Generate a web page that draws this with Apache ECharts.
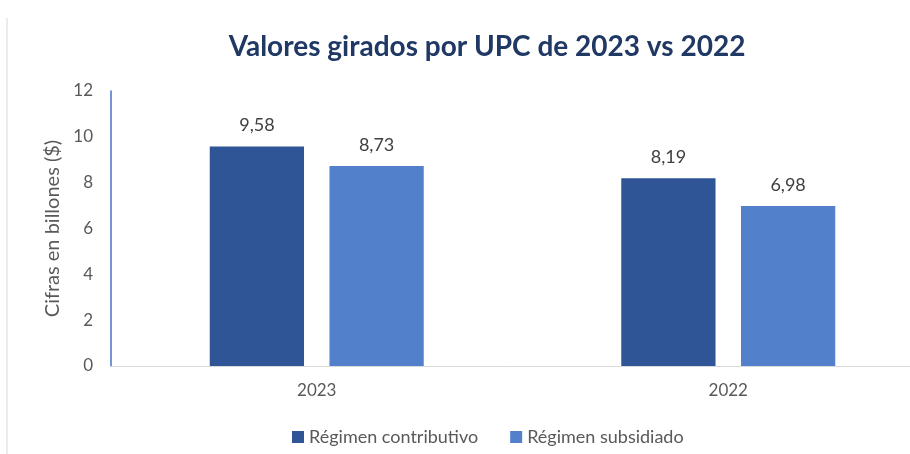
<!DOCTYPE html>
<html>
<head>
<meta charset="utf-8">
<script src="https://cdn.jsdelivr.net/npm/echarts@6/dist/echarts.min.js"></script>
<style>
html, body { margin: 0; padding: 0; background: #fff; }
#chart { width: 910px; height: 454px; }
</style>
</head>
<body>
<div id="chart"></div>
<script>
var years = ['2023', '2022'];
var contributivo = [9.58, 8.19];
var subsidiado = [8.73, 6.98];
var yTicks = [0, 2, 4, 6, 8, 10, 12];

var chart = echarts.init(document.getElementById('chart'));

function etiqueta(p) {
	return p.value.toFixed(2).replace('.', ',');
}

var option = {
	backgroundColor: '#fff',
	textStyle: { fontFamily: 'Lato' },
	title: {
		text: 'Valores girados por UPC de 2023 vs 2022',
		left: 482,
		textAlign: 'center',
		top: 28,
		textStyle: { fontFamily: 'Lato', fontWeight: 'bold', fontSize: 28, color: '#1F3864' }
	},
	legend: {
		data: ['Régimen contributivo', 'Régimen subsidiado'],
		top: 423,
		left: 287,
		itemWidth: 12,
		itemHeight: 12,
		itemGap: 32,
		icon: 'rect',
		textStyle: { fontSize: 18, color: '#595959' }
	},
	grid: { left: 111, right: -24, top: 91, bottom: 88, outerBoundsMode: 'none', containLabel: false },
	xAxis: {
		type: 'category',
		data: years,
		axisLine: { lineStyle: { color: '#d9d9d9' } },
		axisTick: { show: false },
		axisLabel: { fontSize: 17, color: '#595959', margin: 16 }
	},
	yAxis: {
		type: 'value',
		min: yTicks[0],
		max: yTicks[yTicks.length - 1],
		interval: 2,
		name: 'Cifras en billones ($)',
		nameLocation: 'middle',
		nameGap: 46,
		nameTextStyle: { fontSize: 20, color: '#595959' },
		axisLine: { show: true, lineStyle: { color: '#4472C4', width: 1.5 } },
		axisTick: { show: false },
		splitLine: { show: false },
		axisLabel: { fontSize: 17, color: '#595959', margin: 18 }
	},
	series: [
		{
			name: 'Régimen contributivo',
			type: 'bar',
			data: contributivo,
			itemStyle: { color: '#2F5597' },
			barGap: '27%',
			barCategoryGap: '48%',
			label: { show: true, position: 'top', distance: 12, fontSize: 18, color: '#404040', formatter: etiqueta }
		},
		{
			name: 'Régimen subsidiado',
			type: 'bar',
			data: subsidiado,
			itemStyle: { color: '#5280CA' },
			label: { show: true, position: 'top', distance: 12, fontSize: 18, color: '#404040', formatter: etiqueta }
		}
	],
	graphic: [
		{ type: 'line', shape: { x1: 7, y1: 18, x2: 7, y2: 454 }, style: { stroke: '#d9d9d9', lineWidth: 1 } }
	]
};
chart.setOption(option);
</script>
</body>
</html>
